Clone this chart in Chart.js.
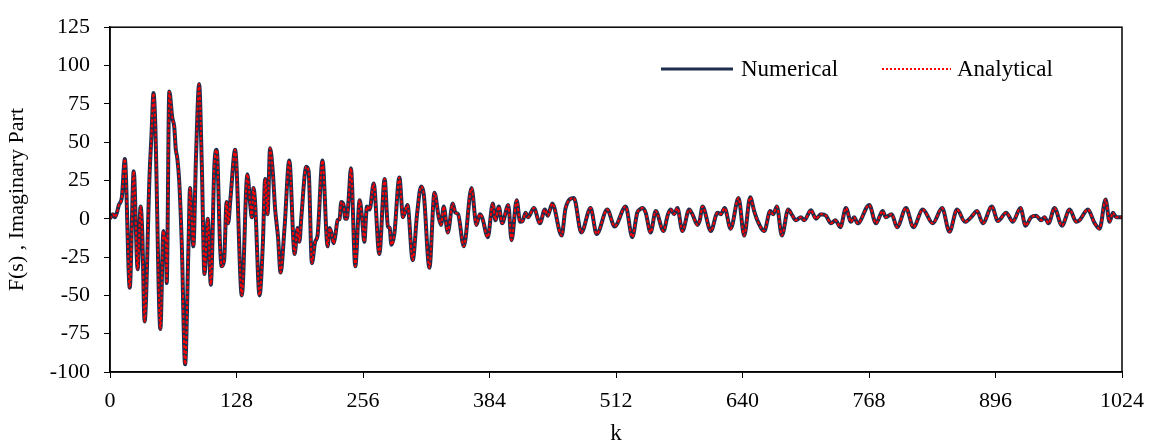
<!DOCTYPE html>
<html>
<head>
<meta charset="utf-8">
<script src="https://cdn.jsdelivr.net/npm/chart.js@4.4.1/dist/chart.umd.min.js"></script>
<style>
  html, body { margin: 0; padding: 0; background: #fff; }
  canvas { display: block; }
</style>
</head>
<body>
<canvas id="fsChart" width="1156" height="448"></canvas>
<script>
/* F(s) imaginary part vs k - numerical and analytical curves (they overlap). */

// k positions of the turning points
const kValues = [
  0, 3, 5, 7, 9, 12, 15, 20, 24, 28, 31, 32.7, 35, 40, 42, 44, 45.6, 51, 54, 55.5, 56.5, 57.4,
  60, 63, 65, 66.6, 68, 70, 72.6, 76, 79.4, 81, 82.5, 84.4, 87, 90.2, 92.9, 95.6, 99, 102,
  105.7, 108, 111.4, 113, 115.5, 118, 119.5, 122, 126.6, 133.4, 139, 141.8, 143.5, 145.2, 146.8,
  151.3, 154.7, 157, 159.4, 162, 164.8, 167, 170, 172.6, 176.6, 181.4, 186.8, 189.8, 191.7,
  193.5, 198.6, 201, 204.3, 207.6, 210, 215, 220.2, 222.3, 224.6, 226.3, 228, 230.3, 232.3,
  234, 236.4, 238, 239.7, 241.5, 243.8, 248.2, 252.6, 255, 257.3, 260, 262.7, 266.8, 272.5,
  277.9, 281.2, 283, 284.7, 287.7, 292.8, 296.5, 298.8, 301, 306.3, 310.7, 314.8, 317.5, 323.2,
  328.3, 332.6, 335, 337.7, 341.8, 346.8, 349.5, 352.2, 358, 365.8, 370.8, 374.2, 376.5, 382.3,
  387.3, 390, 393.4, 396.8, 403, 406.3, 411.5, 415, 417.5, 420.5, 423, 428.9, 435, 440, 443,
  447.5, 457, 461, 469.4, 476.9, 486.3, 492.4, 503.2, 510.6, 521.8, 528.5, 533.5, 536, 538.7,
  542, 547, 552.2, 560, 564.6, 567.4, 570.8, 574.1, 579.2, 586, 589.3, 594.4, 596.8, 599.5,
  608, 614.7, 618, 622, 628, 636, 641.7, 647.8, 651.8, 655, 662, 668, 671, 674.8, 679.8, 686.2,
  690.5, 694, 699, 702.5, 709.2, 714.4, 719.4, 724.5, 729.5, 734, 739, 744.7, 749.7, 753, 756.5,
  768.3, 775, 781.8, 785, 791, 796.4, 805.5, 812.9, 822.4, 832.5, 842, 849.4, 857.1, 865.2,
  871.3, 877.4, 883.2, 892.3, 898.4, 906.8, 913.5, 921.3, 926.4, 932, 937, 942.2, 945.6, 949.6,
  955.7, 963.2, 971, 977.8, 981, 989.5, 996, 1001.3, 1007.4, 1011.4, 1014.8, 1018, 1021, 1024
];

// F(s) imaginary part at those k
const fValues = [
  0, 3, 1, 4, 9, 14, 39, -45, 31, -33, 8, -10, -67, 28, 55, 82, 66, -72, -8, -13, -12, -42,
  83, 66, 60, 45, 40, 25, -16, -95, -18, 20, 3, -18, 40, 88, 35, -36, 0, -43,
  36, 45, -18, -31, -27, 11, -3, 14, 45, -50, 29, 10, 1, 20, 11,
  -50, -16, 26, 3, 46, 30, 7, -12, -35, -6, 38, -23, -6, -15,
  0, 34, 31, -29, -15, -11, 38, -18, -6, -11, -16, -11, -1, 0,
  11, 9, 0, 0, 13, 33, -31, 12, 1, -15, 8, 6, 23, -23,
  26, -5, -6, -17, -10, 27, 1, 5, 9, -27, 3, 21, 16, -32,
  17, 1, -4, 8, -9, 10, 4, 3, -18, 20, -4, 3, 1, -12,
  10, -1, 8, -3, 9, -14, 12, -2, -1.5, 4, 1, 7, -3, 6, 2,
  10, -11, 7, 13.5, -9, 7, -10, 6, -5, 8, -12, 4, 6, 7,
  4, -9, 5, -8, 3, 6, 3, 7, -8, 6, 3, -4, -1, 8,
  -8, 4, 3, 7, -6.5, 13.5, -11, 14, 5, -1, -8, 5, 3, 8, -11, 6,
  2, -1, 1, -1, 5.5, 0, 3, 2, -3, -1, -5.5, 7, -2, 1, -3,
  9, -3, 5, 1, 3, -5.5, 7, -5.5, 6, -3, 7, -8.5, 6, -2,
  1, 5, -3, 8, -1.5, 4, -2, 7, -4.5, 1, 2, -1, 1, -3,
  7, -4.5, 6, -2, -1, 6, -2.5, -6.5, 12.5, -2, 4, 1, 1, 1
];

const xTicks = [0, 128, 256, 384, 512, 640, 768, 896, 1024];
const yTicks = [-100, -75, -50, -25, 0, 25, 50, 75, 100, 125];
const seriesNames = ["Numerical", "Analytical"];

const NAVY = "#1f2d4d";
const RED = "#ff0000";
const SERIF = "'Liberation Serif', 'Times New Roman', serif";

const points = kValues.map((k, i) => ({ x: k, y: fValues[i] }));

// frame on top/right plus the hand placed legend
const framePlugin = {
  id: "frameAndLegend",
  afterDraw(chart) {
    const { ctx, chartArea } = chart;
    ctx.save();
    ctx.strokeStyle = "#000";
    ctx.lineWidth = 1.5;
    ctx.strokeRect(chartArea.left, chartArea.top, chartArea.right - chartArea.left, chartArea.bottom - chartArea.top);

    ctx.font = "23px " + SERIF;
    ctx.fillStyle = "#000";
    ctx.textBaseline = "middle";
    ctx.textAlign = "left";

    ctx.strokeStyle = NAVY;
    ctx.lineWidth = 3;
    ctx.beginPath();
    ctx.moveTo(661, 69);
    ctx.lineTo(733, 69);
    ctx.stroke();
    ctx.fillText(seriesNames[0], 741, 70);

    ctx.strokeStyle = RED;
    ctx.lineWidth = 2;
    ctx.setLineDash([2, 2]);
    ctx.beginPath();
    ctx.moveTo(882, 69);
    ctx.lineTo(951, 69);
    ctx.stroke();
    ctx.setLineDash([]);
    ctx.fillText(seriesNames[1], 957, 70);
    ctx.restore();
  }
};

new Chart(document.getElementById("fsChart"), {
  type: "line",
  data: {
    datasets: [
      {
        label: seriesNames[0],
        data: points,
        borderColor: NAVY,
        borderWidth: 4,
        pointRadius: 0,
        cubicInterpolationMode: "monotone",
        order: 2,
      },
      {
        label: seriesNames[1],
        data: points,
        borderColor: RED,
        borderWidth: 2,
        borderDash: [3, 2],
        pointRadius: 0,
        cubicInterpolationMode: "monotone",
        order: 1,
      },
    ],
  },
  options: {
    responsive: false,
    animation: false,
    layout: { padding: { top: 16, right: 34, left: 0, bottom: 0 } },
    plugins: { legend: { display: false }, tooltip: { enabled: false } },
    scales: {
      x: {
        type: "linear",
        min: 0,
        max: 1024,
        afterBuildTicks: (axis) => { axis.ticks = xTicks.map((v) => ({ value: v })); },
        afterFit: (axis) => { axis.height = 76; },
        grid: { display: true, drawOnChartArea: false, drawTicks: true, tickLength: 6, color: "#000", lineWidth: 1 },
        border: { display: true, color: "#000", width: 1.5 },
        ticks: { color: "#000", font: { family: SERIF, size: 22 }, padding: 10, maxRotation: 0, callback: (v) => String(v) },
        title: { display: true, text: "k", color: "#000", font: { family: SERIF, size: 23 }, padding: { top: 6, bottom: 0 } },
      },
      y: {
        min: -100,
        max: 125,
        afterBuildTicks: (axis) => { axis.ticks = yTicks.map((v) => ({ value: v })); },
        afterFit: (axis) => { axis.width = 110; },
        grid: { display: true, drawOnChartArea: false, drawTicks: true, tickLength: 6, color: "#000", lineWidth: 1 },
        border: { display: true, color: "#000", width: 1.5 },
        ticks: { color: "#000", font: { family: SERIF, size: 22 }, padding: 14, callback: (v) => String(v) },
        title: { display: true, text: "F(s) , Imaginary Part", color: "#000", font: { family: SERIF, size: 22 }, padding: { top: 4, bottom: 4 } },
      },
    },
  },
  plugins: [framePlugin],
});
</script>
</body>
</html>
